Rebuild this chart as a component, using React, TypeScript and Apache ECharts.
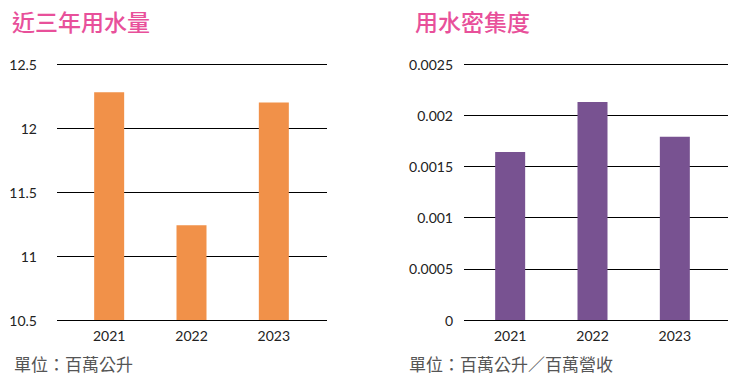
import React, { useEffect, useRef } from "react";
import * as echarts from "echarts";

const years = ["2021", "2022", "2023"];
const waterUse = [12.28, 11.24, 12.2];
const waterIntensity = [0.00164, 0.00213, 0.00179];
const titleLeft = "近三年用水量";
const titleRight = "用水密集度";
const unitLeft = "單位：百萬公升";
const unitRight = "單位：百萬公升／百萬營收";

const NUM_FONT = "Lato, 'Noto Sans', sans-serif";
const CJK_FONT = "'Noto Sans CJK TC', 'Noto Sans CJK SC', sans-serif";

export default function App() {
  const ref = useRef<HTMLDivElement>(null);
  useEffect(() => {
    document.body.style.margin = "0";
    const chart = echarts.init(ref.current!, undefined, { renderer: "svg" });
    const axisLabel = { color: "#222", fontFamily: NUM_FONT, fontSize: 14 };
    const outerX = (gridIndex: number) => ({
      type: "category" as const,
      gridIndex,
      data: years,
      show: false,
    });
    const innerX = (gridIndex: number) => ({
      type: "category" as const,
      gridIndex,
      data: years,
      axisLine: { show: false },
      axisTick: { show: false },
      axisLabel: { ...axisLabel, margin: 8 },
    });
    const hiddenY = (gridIndex: number, min: number, max: number) => ({
      type: "value" as const,
      gridIndex,
      min,
      max,
      show: false,
      splitLine: { show: false },
    });
    chart.setOption({
      animation: false,
      title: [
        {
          text: titleLeft,
          left: 7,
          top: 4,
          textStyle: { color: "#E8509A", fontSize: 23, fontWeight: 500, fontFamily: CJK_FONT },
        },
        {
          text: titleRight,
          left: 410,
          top: 4,
          textStyle: { color: "#E8509A", fontSize: 23, fontWeight: 500, fontFamily: CJK_FONT },
        },
      ],
      graphic: [
        {
          type: "text",
          left: 14,
          top: 355,
          style: { text: unitLeft, fill: "#555", fontSize: 17, fontFamily: CJK_FONT },
        },
        {
          type: "text",
          left: 409,
          top: 355,
          style: { text: unitRight, fill: "#555", fontSize: 17, fontFamily: CJK_FONT },
        },
      ],
      grid: [
        { left: 57, right: 414, top: 64, bottom: 64 },
        { left: 68, right: 426, top: 64, bottom: 64 },
        { left: 464, right: 13, top: 64, bottom: 64 },
        { left: 469, right: 25, top: 64, bottom: 64 },
      ],
      xAxis: [outerX(0), innerX(1), outerX(2), innerX(3)],
      yAxis: [
        {
          type: "value",
          gridIndex: 0,
          min: 10.5,
          max: 12.5,
          interval: 0.5,
          axisLine: { show: false },
          axisTick: { show: false },
          axisLabel: { ...axisLabel, margin: 20 },
          splitLine: { lineStyle: { color: "#000", width: 1.2 } },
        },
        hiddenY(1, 10.5, 12.5),
        {
          type: "value",
          gridIndex: 2,
          min: 0,
          max: 0.0025,
          interval: 0.0005,
          axisLine: { show: false },
          axisTick: { show: false },
          axisLabel: {
            ...axisLabel,
            margin: 11,
            formatter: (v: number) => String(parseFloat(v.toFixed(5))),
          },
          splitLine: { lineStyle: { color: "#000", width: 1.2 } },
        },
        hiddenY(3, 0, 0.0025),
      ],
      series: [
        {
          type: "bar",
          xAxisIndex: 1,
          yAxisIndex: 1,
          data: waterUse,
          barWidth: 30,
          itemStyle: { color: "#F19149" },
        },
        {
          type: "bar",
          xAxisIndex: 3,
          yAxisIndex: 3,
          data: waterIntensity,
          barWidth: 30,
          itemStyle: { color: "#785291" },
        },
      ],
    });
    return () => chart.dispose();
  }, []);
  return <div ref={ref} style={{ width: 741, height: 384 }} />;
}
